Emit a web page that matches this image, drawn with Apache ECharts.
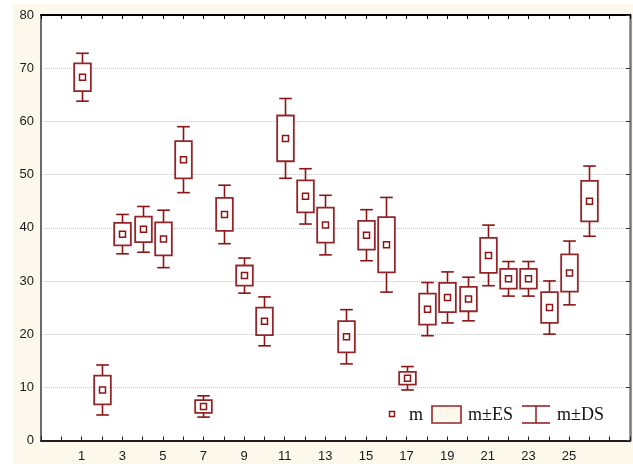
<!DOCTYPE html>
<html>
<head>
<meta charset="utf-8">
<script src="https://cdn.jsdelivr.net/npm/echarts@6/dist/echarts.min.js"></script>
<style>
  html, body { margin: 0; padding: 0; background: #ffffff; }
  #wrap { position: relative; width: 633px; height: 464px; }
  #paper { position: absolute; left: 13px; top: 4px; width: 620px; height: 460px; background: #fdf8ec; }
  #chart { position: absolute; left: 0; top: 0; width: 633px; height: 464px; }
</style>
</head>
<body>
<div id="wrap">
  <div id="paper"></div>
  <div id="chart"></div>
</div>
<script>
// Group index (x position) for each sample
const groups = [1, 2, 3, 4, 5, 6, 7, 8, 9, 10, 11, 12, 13, 14, 15, 16, 17, 18, 19, 20, 21, 22, 23, 24, 25, 26];
// Mean of each group (m)
const means = [68.3, 9.5, 38.8, 39.7, 37.9, 52.8, 6.4, 42.5, 31.0, 22.4, 56.8, 45.9, 40.5, 19.5, 38.6, 36.8, 11.7, 24.7, 26.9, 26.6, 34.8, 30.4, 30.4, 25.0, 31.5, 45.0];
// Standard error (box half-height, m±ES)
const stdErr = [2.6, 2.7, 2.1, 2.4, 3.1, 3.5, 1.2, 3.1, 1.9, 2.6, 4.3, 3.0, 3.3, 2.95, 2.7, 5.2, 1.2, 2.9, 2.75, 2.3, 3.3, 1.85, 1.85, 2.9, 3.5, 3.8];
// Standard deviation (whisker half-length, m±DS)
const stdDev = [4.5, 4.7, 3.7, 4.3, 5.4, 6.2, 2.0, 5.5, 3.3, 4.6, 7.5, 5.2, 5.6, 5.1, 4.8, 8.9, 2.2, 5.0, 4.8, 4.1, 5.7, 3.25, 3.25, 5.0, 6.0, 6.6];
// Tick labels shown on the horizontal axis
const xTickLabels = [1, 3, 5, 7, 9, 11, 13, 15, 17, 19, 21, 23, 25];
// Tick labels on the vertical axis
const yTickLabels = [0, 10, 20, 30, 40, 50, 60, 70, 80];

const RED = '#8b1414';
const BOX_RED = '#94262a';

const rows = groups.map((g, i) => [g, means[i], stdErr[i], stdDev[i]]);

function renderBox(params, api) {
  const x = api.value(0), m = api.value(1), es = api.value(2), sd = api.value(3);
  const cx = Math.round(api.coord([x, m])[0]) + 0.5;
  const cy = api.coord([x, m])[1];
  const boxTop = api.coord([x, m + es])[1];
  const boxBot = api.coord([x, m - es])[1];
  const wTop = api.coord([x, m + sd])[1];
  const wBot = api.coord([x, m - sd])[1];
  const unit = api.size([1, 0])[0];
  const bw = unit * 0.82;
  const cw = unit * 0.62;
  const wl = { stroke: RED, lineWidth: 1.6 };
  const sq = 6;
  return {
    type: 'group',
    children: [
      { type: 'line', shape: { x1: cx, y1: wTop, x2: cx, y2: boxTop }, style: wl },
      { type: 'line', shape: { x1: cx, y1: boxBot, x2: cx, y2: wBot }, style: wl },
      { type: 'line', shape: { x1: cx - cw / 2, y1: wTop, x2: cx + cw / 2, y2: wTop }, style: wl },
      { type: 'line', shape: { x1: cx - cw / 2, y1: wBot, x2: cx + cw / 2, y2: wBot }, style: wl },
      { type: 'rect', shape: { x: cx - bw / 2, y: boxTop, width: bw, height: boxBot - boxTop },
        style: { fill: '#ffffff', stroke: BOX_RED, lineWidth: 1.8 } },
      { type: 'rect', shape: { x: cx - sq / 2, y: cy - sq / 2, width: sq, height: sq },
        style: { fill: '#ffffff', stroke: RED, lineWidth: 1.5 } }
    ]
  };
}

const chart = echarts.init(document.getElementById('chart'), null, { renderer: 'canvas' });

const labelFont = { fontFamily: 'Liberation Sans', fontSize: 13, color: '#1a1a1a' };

// Legend drawn as a small graphic group in the lower right of the plot
const lx = 389, ly = 406;
const legendText = { fontFamily: 'Liberation Serif', fontSize: 18, fill: '#111' };

chart.setOption({
  animation: false,
  backgroundColor: 'transparent',
  grid: { left: 41, right: 3, top: 15, bottom: 23.5, show: true, backgroundColor: '#ffffff', borderWidth: 0 },
  xAxis: [
    {
      type: 'value', position: 'bottom', min: -1, max: 28, interval: 1,
      axisLine: { show: true, onZero: false, lineStyle: { color: '#1e1e1e', width: 2 } },
      axisTick: { show: true, inside: true, length: 4, lineStyle: { color: '#1e1e1e', width: 1 } },
      axisLabel: {
        ...labelFont, margin: 9,
        formatter: v => (xTickLabels.indexOf(v) >= 0 ? String(v) : '')
      },
      splitLine: { show: false }
    },
    {
      type: 'value', position: 'top', min: -1, max: 28, interval: 1,
      axisLine: { show: true, onZero: false, lineStyle: { color: '#000', width: 2 } },
      axisTick: { show: true, inside: true, length: 4, lineStyle: { color: '#000', width: 1 } },
      axisLabel: { show: false },
      splitLine: { show: false }
    }
  ],
  yAxis: [
    {
      type: 'value', position: 'left', min: 0, max: 80, interval: 10,
      axisLine: { show: true, onZero: false, lineStyle: { color: '#6a6a6a', width: 2 } },
      axisTick: { show: false },
      axisLabel: {
        ...labelFont, margin: 7,
        formatter: v => (yTickLabels.indexOf(v) >= 0 ? String(v) : '')
      },
      splitLine: { show: true, lineStyle: { color: '#c8c8c8', width: 1, type: [1, 1] } }
    },
    {
      type: 'value', position: 'right', min: 0, max: 80, interval: 10,
      axisLine: { show: true, onZero: false, lineStyle: { color: '#7a7a7a', width: 2.5 } },
      axisTick: { show: true, inside: true, length: 4, lineStyle: { color: '#333', width: 1 } },
      axisLabel: { show: false },
      splitLine: { show: false }
    }
  ],
  series: [
    {
      type: 'custom',
      xAxisIndex: 0,
      yAxisIndex: 0,
      renderItem: renderBox,
      data: rows,
      clip: false
    }
  ],
  graphic: [
    {
      type: 'group', x: 0, y: 0, z: 100,
      children: [
        { type: 'rect', shape: { x: lx + 0.5, y: ly + 5.5, width: 5, height: 5 },
          style: { fill: '#fff', stroke: RED, lineWidth: 1.4 } },
        { type: 'text', x: lx + 20, y: ly + 9, style: { ...legendText, text: 'm', textVerticalAlign: 'middle' } },
        { type: 'rect', shape: { x: lx + 43, y: ly, width: 29, height: 17 },
          style: { fill: '#fdf8ec', stroke: BOX_RED, lineWidth: 1.6 } },
        { type: 'text', x: lx + 79, y: ly + 9, style: { ...legendText, text: 'm±ES', textVerticalAlign: 'middle' } },
        { type: 'line', shape: { x1: lx + 133, y1: ly, x2: lx + 161, y2: ly }, style: { stroke: BOX_RED, lineWidth: 1.6 } },
        { type: 'line', shape: { x1: lx + 133, y1: ly + 17, x2: lx + 161, y2: ly + 17 }, style: { stroke: BOX_RED, lineWidth: 1.6 } },
        { type: 'line', shape: { x1: lx + 147, y1: ly, x2: lx + 147, y2: ly + 17 }, style: { stroke: RED, lineWidth: 1.4 } },
        { type: 'text', x: lx + 168, y: ly + 9, style: { ...legendText, text: 'm±DS', textVerticalAlign: 'middle' } }
      ]
    }
  ]
});
</script>
</body>
</html>
